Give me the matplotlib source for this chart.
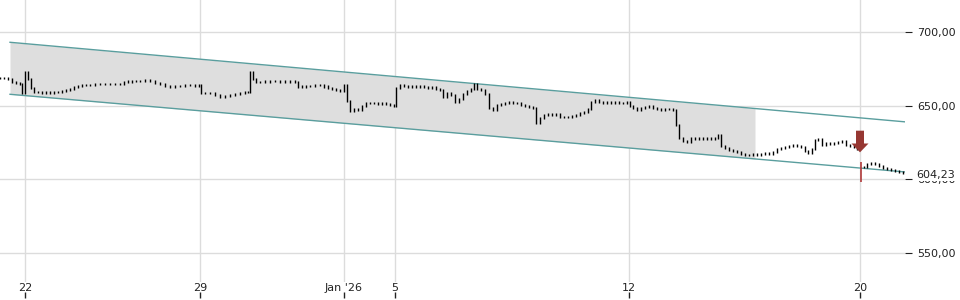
import matplotlib.pyplot as plt
import matplotlib.transforms as mtransforms
import numpy as np

# Trading-time index (one unit per chart column) and prices
t = [0, 4, 8, 12, 16, 20, 22, 25, 28, 31, 34, 38, 42, 46, 50, 54, 58, 62, 66, 70,
     74, 78, 82, 86, 90, 95, 100, 105, 110, 115, 120, 124, 128, 132, 136, 140, 145, 150, 155, 160,
     165, 170, 175, 180, 185, 190, 195, 199, 201, 205, 210, 215, 220, 225, 230, 235, 240, 245, 248, 250,
     253, 256, 260, 265, 270, 275, 280, 285, 290, 295, 298, 302, 306, 310, 315, 320, 324, 328, 332, 336,
     340, 344, 347, 350, 354, 358, 362, 366, 370, 374, 378, 382, 386, 390, 394, 396, 400, 404, 408, 412,
     416, 420, 424, 428, 432, 436, 440, 443, 447, 451, 455, 459, 463, 467, 471, 474, 477, 481, 485, 489,
     493, 497, 501, 505, 509, 513, 517, 521, 525, 529, 533, 536, 540, 544, 548, 552, 556, 560, 564, 568,
     572, 576, 580, 584, 588, 591, 595, 599, 603, 607, 611, 615, 619, 623, 627, 630, 633, 637, 641, 645,
     649, 653, 657, 661, 665, 669, 673, 676, 679, 683, 687, 691, 695, 699, 703, 707, 711, 715, 718, 721,
     725, 729, 733, 737, 741, 745, 749, 753, 757, 761, 765, 769, 773, 777, 781, 785, 789, 793, 797, 801,
     805, 808, 812, 815, 818, 822, 826, 830, 834, 838, 842, 846, 850, 854, 857]
price = [668.8, 668.5, 668.0, 666.1, 665.4, 664.5, 658.5, 673.0, 668.0, 662.0, 659.5, 659.3, 658.8, 659.3, 658.6, 659.3, 659.0, 660.0, 660.6, 661.0,
         662.7, 663.3, 664.0, 664.0, 664.3, 664.5, 664.7, 664.7, 664.5, 664.7, 665.0, 666.1, 666.4, 666.7, 666.5, 667.0, 667.4, 666.7, 665.4, 665.0,
         663.5, 663.0, 663.3, 663.5, 663.7, 663.7, 663.5, 664.0, 658.6, 658.8, 658.4, 657.5, 656.2, 656.6, 657.0, 657.9, 658.6, 659.3, 659.0, 673.0,
         668.0, 666.1, 666.1, 666.4, 666.7, 666.7, 666.1, 666.4, 666.7, 666.0, 662.7, 663.0, 663.3, 663.3, 663.7, 664.0, 663.0, 662.0, 661.3, 660.6,
         659.8, 664.0, 653.0, 646.4, 647.5, 646.8, 650.0, 651.8, 651.5, 651.8, 651.1, 651.8, 651.1, 650.4, 649.8, 662.0, 664.0, 663.3, 662.7, 663.3,
         662.7, 663.0, 662.7, 662.0, 662.7, 661.3, 660.6, 656.0, 658.6, 657.0, 652.8, 654.5, 658.0, 660.0, 661.5, 664.7, 661.3, 660.6, 657.9, 648.4,
         647.1, 650.4, 651.1, 651.8, 652.5, 652.0, 651.8, 650.4, 649.8, 649.1, 648.4, 638.5, 641.6, 643.7, 644.4, 643.7, 644.4, 642.3, 642.3, 642.6,
         643.0, 643.7, 645.0, 645.7, 648.0, 652.5, 653.8, 652.5, 651.8, 652.2, 651.8, 652.5, 651.8, 651.8, 652.5, 650.0, 648.4, 646.8, 648.4, 649.1,
         649.5, 648.4, 647.5, 647.1, 647.5, 647.8, 647.1, 636.9, 628.1, 626.0, 625.3, 628.1, 627.4, 628.1, 627.4, 628.1, 627.4, 628.1, 630.0, 622.6,
         621.3, 619.9, 619.2, 618.5, 617.2, 616.5, 616.5, 617.2, 616.8, 617.2, 617.9, 617.2, 618.5, 620.6, 621.3, 622.0, 622.6, 623.3, 622.6, 622.0,
         619.2, 618.0, 620.6, 626.7, 627.4, 623.3, 624.7, 624.0, 624.7, 625.3, 626.0, 623.5, 622.6, 621.9, 620.6]

# session after the gap (Jan 20)
t_new = [861, 864, 867, 871, 875, 879, 883, 887, 891, 895, 899, 903]
price_new = [611.1, 608.4, 610.4, 611.1, 610.4, 609.0, 607.7, 607.0, 606.3, 605.6, 605.0, 604.3]
gap_low = 598.2
last_price = 604.23

# regression channel
chan_t = [10, 905]
chan_upper = [693.0, 639.0]
chan_lower = [657.7, 605.0]
shade_end = 755

# signal arrow
arrow_t = 860
arrow_top = 633.0
arrow_tip = 618.3

xtick_pos = [25, 200, 344, 395, 629, 860]
xtick_lab = ["22", "29", "Jan '26", "5", "12", "20"]
ytick_pos = [550, 600, 650, 700]
ytick_lab = ["550,00", "600,00", "650,00", "700,00"]

fig = plt.figure(figsize=(9.6, 3.0), dpi=100)
ax = fig.add_axes([0, 0.06, 905 / 960, 0.94])
ax.set_xlim(0, 905)
ax.set_ylim(530.3, 721.7)

ax.grid(True, color="#dcdcdc", linewidth=1)
ax.set_axisbelow(True)
for s in ax.spines.values():
    s.set_visible(False)

# channel
slope_u = (chan_upper[1] - chan_upper[0]) / (chan_t[1] - chan_t[0])
slope_l = (chan_lower[1] - chan_lower[0]) / (chan_t[1] - chan_t[0])
ts = np.array([chan_t[0], shade_end])
ax.fill_between(ts, chan_lower[0] + slope_l * (ts - chan_t[0]),
                chan_upper[0] + slope_u * (ts - chan_t[0]), color="#dedede", lw=0, zorder=1)
ax.plot(chan_t, chan_upper, color="#5a9e9e", lw=1, zorder=2)
ax.plot(chan_t, chan_lower, color="#5a9e9e", lw=1, zorder=2)

# price bars
def draw_bars(tt, pp):
    lo = [min(pp[max(i - 1, 0)], p) - 0.7 for i, p in enumerate(pp)]
    hi = [max(pp[max(i - 1, 0)], p) + 0.7 for i, p in enumerate(pp)]
    ax.vlines(tt, lo, hi, color="black", lw=1, zorder=3)

draw_bars(t, price)
draw_bars(t_new[1:], price_new[1:])
ax.vlines(t_new[0], gap_low, price_new[0] + 0.7, color="#b03a3a", lw=1.2, zorder=3)

ax.arrow(arrow_t, arrow_top, 0, arrow_tip - arrow_top, width=8, head_width=17,
         head_length=6, length_includes_head=True, color="#963732", lw=0, zorder=4)

# axes ticks
ax.set_xticks(xtick_pos, xtick_lab)
ax.tick_params(axis="x", length=0, pad=1, labelsize=8, labelcolor="#222222")
trans = mtransforms.blended_transform_factory(ax.transData, ax.transAxes)
ax.plot(xtick_pos, [-0.047] * len(xtick_pos), ls="none", marker="|", ms=4,
        color="#222222", transform=trans, clip_on=False)

ax.yaxis.tick_right()
ax.set_yticks(ytick_pos, ytick_lab)
ax.tick_params(axis="y", length=5, pad=4, labelsize=8, color="#222222", labelcolor="#222222")
# last price label, drawn over the 600 label like the original
lab_trans = ax.get_yaxis_transform() + mtransforms.ScaledTranslation(0, -1.5 / 72, fig.dpi_scale_trans)
ax.text(1.0 + 11 / 905, last_price, "604,23", transform=lab_trans,
        fontsize=8, color="#222222", ha="left", va="center", clip_on=False,
        zorder=10, bbox=dict(fc="white", ec="none", pad=1.0))

fig.savefig("out.png", dpi=100)
